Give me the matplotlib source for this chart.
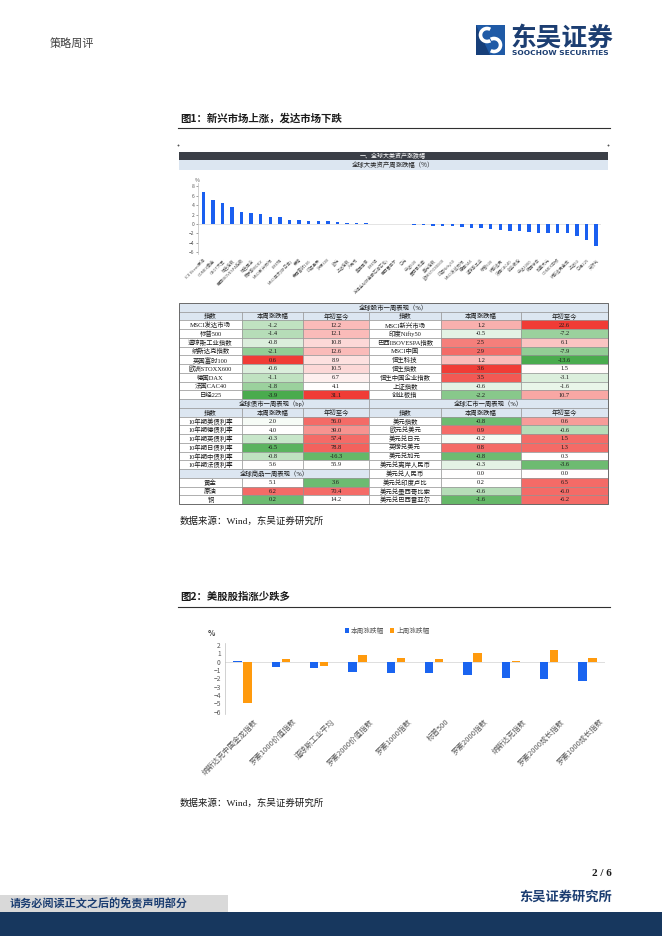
import matplotlib
matplotlib.use('Agg')
import matplotlib.pyplot as plt
import matplotlib.patches as patches
from matplotlib.colors import LinearSegmentedColormap
import numpy as np

plt.rcParams['font.family'] = ['Noto Sans CJK SC', 'DejaVu Sans']
SERIF = ['Liberation Serif', 'Noto Sans CJK SC']

# ---- chart 1: weekly change of global assets (%) ----
asset_names = ['ICE Brent原油', 'COMEX黄金', 'CBOT大豆', '恒生指数', '巴西IBOVESPA指数', '恒生国企',
               '俄罗斯MOEX', 'MSCI新兴市场', 'LME铜', 'MSCI亚太(除日本)', '英镑', '英国富时100',
               '印度孟买', '沪深300', '欧元', '上证指数', '人民币', '美国国债', 'LME铝',
               '万得全A(除金融石油石化)', '巴西雷亚尔', '日元', '中证500', '墨西哥比索', '美元指数',
               '欧洲STOXX600', '印度Nifty50', 'MSCI发达市场', '德国DAX', '道琼斯工业', '标普500',
               '纳斯达克', '法国CAC40', '创业板指', '中证1000', '韩国综合', '加拿大元', 'COMEX白银',
               '纳斯达克金龙', '上证50', '日经225', '天然气']
asset_week = [6.7, 5.1, 4.5, 3.6, 2.6, 2.3, 2.1, 1.5, 1.4, 0.85, 0.8, 0.65, 0.6, 0.55, 0.45, 0.3,
              0.2, 0.15, 0.1, -0.05, -0.08, -0.1, -0.12, -0.2, -0.35, -0.4, -0.45, -0.6, -0.8, -0.85,
              -1.0, -1.2, -1.4, -1.45, -1.7, -1.8, -1.85, -1.9, -2.0, -2.6, -3.4, -4.7]

# ---- tables ----
stock_left_names = ['MSCI发达市场', '标普500', '道琼斯工业指数', '纳斯达克指数', '英国富时100',
                    '欧洲STOXX600', '德国DAX', '法国CAC40', '日经225']
stock_left_week = [-1.2, -1.4, -0.8, -2.1, 0.6, -0.6, -1.1, -1.8, -3.9]
stock_left_ytd = [12.2, 12.1, 10.8, 12.6, 8.9, 10.5, 6.7, 4.1, 31.1]
stock_right_names = ['MSCI新兴市场', '印度Nifty50', '巴西IBOVESPA指数', 'MSCI中国', '恒生科技',
                     '恒生指数', '恒生中国企业指数', '上证指数', '创业板指']
stock_right_week = [1.2, -0.5, 2.5, 2.9, 1.2, 3.6, 3.5, -0.6, -2.2]
stock_right_ytd = [22.6, -7.2, 6.1, -7.9, -13.6, 1.5, -3.1, -1.6, 10.7]
bond_names = ['10年期美债利率', '10年期德债利率', '10年期英债利率', '10年期日债利率',
              '10年期中债利率', '10年期法债利率']
bond_week = [2.0, 4.0, -0.3, -6.5, -0.8, 5.6]
bond_ytd = [56.0, 39.0, 57.4, 78.8, -16.3, 55.9]
cmdty_names = ['黄金', '原油', '铜']
cmdty_week = [5.1, 6.2, 0.2]
cmdty_ytd = [3.6, 70.4, 14.2]
fx_names = ['美元指数', '欧元兑美元', '美元兑日元', '英镑兑美元', '美元兑加元', '美元兑离岸人民币',
            '美元兑人民币', '美元兑印度卢比', '美元兑墨西哥比索', '美元兑巴西雷亚尔']
fx_week = [-0.8, 0.9, -0.2, 0.8, -0.8, -0.3, 0.0, 0.2, -0.6, -1.6]
fx_ytd = [0.6, -0.6, 1.5, 1.3, 0.3, -3.6, 0.0, 6.5, -6.0, -6.2]

# shading of the cells (-1 green .. 0 white .. 1 red), as in the report
stock_left_week_heat = [-0.35, -0.4, -0.2, -0.6, 1.0, -0.2, -0.35, -0.55, -1.0]
stock_left_ytd_heat = [0.35, 0.35, 0.2, 0.35, 0.15, 0.2, 0.08, 0.0, 1.0]
stock_right_week_heat = [0.4, -0.15, 0.65, 0.75, 0.35, 1.0, 0.85, -0.15, -0.65]
stock_right_ytd_heat = [1.0, -0.55, 0.3, -0.6, -1.0, 0.02, -0.2, -0.12, 0.45]
bond_week_heat = [-0.05, 0.0, -0.3, -0.9, -0.35, 0.0]
bond_ytd_heat = [0.75, 0.55, 0.75, 0.8, -0.85, 0.0]
cmdty_week_heat = [0.0, 0.75, -0.8]
cmdty_ytd_heat = [-0.8, 0.75, 0.0]
fx_week_heat = [-0.8, 0.75, -0.05, 0.75, -0.8, -0.15, 0.0, 0.0, -0.4, -0.85]
fx_ytd_heat = [0.5, -0.4, 0.75, 0.75, 0.0, -0.8, 0.0, 0.75, 0.75, 0.75]

# ---- chart 2: US indices ----
us_names = ['纳斯达克中国金龙指数', '罗素1000价值指数', '道琼斯工业平均', '罗素2000价值指数',
            '罗素1000指数', '标普500', '罗素2000指数', '纳斯达克指数', '罗素2000成长指数',
            '罗素1000成长指数']
us_this_week = [0.05, -0.6, -0.8, -1.2, -1.4, -1.4, -1.6, -2.0, -2.1, -2.3]
us_last_week = [-4.9, 0.3, -0.5, 0.8, 0.4, 0.3, 1.1, 0.1, 1.4, 0.5]

W, H = 662, 936
fig = plt.figure(figsize=(W / 100, H / 100), dpi=100)
pg = fig.add_axes([0, 0, 1, 1])
pg.set_xlim(0, W)
pg.set_ylim(H, 0)
pg.axis('off')


def px_axes(x0, y0, x1, y1):
    return fig.add_axes([x0 / W, 1 - y1 / H, (x1 - x0) / W, (y1 - y0) / H])


NAVY = '#1c3e72'

# header
pg.text(50, 43, '策略周评', fontsize=8, color='#404040', va='center')
pg.add_patch(patches.Rectangle((476, 25), 29, 30, facecolor='#1f5aa6', edgecolor='none'))
pg.add_patch(patches.Polygon([(476, 25), (476, 55), (490, 55)], closed=True, facecolor='#173f7a', edgecolor='none'))
pg.add_patch(patches.Arc((487, 35), 13, 13, theta1=60, theta2=300, color='white', lw=2.6))
pg.add_patch(patches.Arc((494, 45), 13, 13, theta1=240, theta2=480, color='white', lw=2.6))
pg.text(510, 38, '东吴证券', fontsize=18.5, color=NAVY, va='center', fontweight='bold')
pg.text(512, 53, 'SOOCHOW SECURITIES', fontsize=5.4, color=NAVY, va='center', fontweight='bold',
        family='DejaVu Sans')

# figure 1 title
pg.text(180, 118, '图1：新兴市场上涨，发达市场下跌', fontsize=7.5, fontweight='bold', va='center', color='#1a1a1a')
pg.plot([178, 610], [128, 128], color='#303030', lw=0.8)
pg.plot([178, 608], [145, 145], ls='none', marker='s', ms=0.4, color='#555555')

pg.add_patch(patches.Rectangle((179, 152), 429, 8, facecolor='#3b3f47', edgecolor='none'))
pg.text(393, 156, '一、全球大类资产涨跌幅', fontsize=4.3, color='white', ha='center', va='center')
pg.add_patch(patches.Rectangle((179, 160), 429, 9.5, facecolor='#dce6f1', edgecolor='none'))
pg.text(393, 164.8, '全球大类资产周涨跌幅（%）', fontsize=4.6, color='#222222', ha='center', va='center')

ax1 = px_axes(198.5, 183.2, 600.8, 253.9)
x1 = np.arange(len(asset_week))
ax1.bar(x1, asset_week, width=0.36, color='#1a5ff0', zorder=2)
ax1.axhline(0, color='#d9d9d9', lw=0.5, zorder=1)
ax1.set_xlim(-0.5, len(asset_week) - 0.5)
ax1.set_ylim(-6.3, 8.6)
ax1.set_yticks(range(-6, 9, 2))
ax1.tick_params(axis='y', labelsize=3.6, colors='#595959', length=1.5, width=0.4, pad=1.5)
ax1.set_xticks(x1)
ax1.set_xticklabels(asset_names, rotation=45, ha='right', rotation_mode='anchor', fontsize=3.0, color='#595959')
ax1.tick_params(axis='x', length=0, pad=3)
for s in ['top', 'right', 'bottom']:
    ax1.spines[s].set_visible(False)
ax1.spines['left'].set_color('#bfbfbf')
ax1.spines['left'].set_linewidth(0.5)
ax1.patch.set_alpha(0)
pg.text(197, 180, '%', fontsize=3.8, color='#595959', ha='center', va='center')

# tables
heat_cmap = LinearSegmentedColormap.from_list('heat', ['#4aab4e', '#ffffff', '#f03c36'])
cols = [179, 242, 303, 369, 441, 521, 608]
row_h = 8.74
top = 303
HEAD = '#dce6f1'


def cell(c0, c1, r, text, fc='white', fs=4.6):
    x0, x1 = cols[c0], cols[c1]
    y0 = top + r * row_h
    pg.add_patch(patches.Rectangle((x0, y0), x1 - x0, row_h, facecolor=fc, edgecolor='#8c8c8c', lw=0.4))
    pg.text((x0 + x1) / 2, y0 + row_h / 2 + 0.3, text, ha='center', va='center', fontsize=fs,
            family=SERIF, color='#1a1a1a')


def heat(h):
    return heat_cmap((h + 1) / 2)


def block(c, r0, names, week, ytd, wheat, yheat):
    for i, (n, w, y, hw, hy) in enumerate(zip(names, week, ytd, wheat, yheat)):
        cell(c, c + 1, r0 + i, n)
        cell(c + 1, c + 2, r0 + i, f'{w:.1f}', heat(hw))
        cell(c + 2, c + 3, r0 + i, f'{y:.1f}', heat(hy))


def headers(c, r):
    for j, t in enumerate(['指数', '本周涨跌幅', '年初至今']):
        cell(c + j, c + j + 1, r, t, HEAD)


cell(0, 6, 0, '全球股市一周表现（%）', HEAD)
headers(0, 1)
headers(3, 1)
block(0, 2, stock_left_names, stock_left_week, stock_left_ytd, stock_left_week_heat, stock_left_ytd_heat)
block(3, 2, stock_right_names, stock_right_week, stock_right_ytd, stock_right_week_heat, stock_right_ytd_heat)
cell(0, 3, 11, '全球债市一周表现（bp）', HEAD)
cell(3, 6, 11, '全球汇市一周表现（%）', HEAD)
headers(0, 12)
headers(3, 12)
block(0, 13, bond_names, bond_week, bond_ytd, bond_week_heat, bond_ytd_heat)
cell(0, 3, 19, '全球商品一周表现（%）', HEAD)
block(0, 20, cmdty_names, cmdty_week, cmdty_ytd, cmdty_week_heat, cmdty_ytd_heat)
block(3, 13, fx_names, fx_week, fx_ytd, fx_week_heat, fx_ytd_heat)
pg.add_patch(patches.Rectangle((cols[0], top), cols[-1] - cols[0], 23 * row_h, facecolor='none',
                               edgecolor='#606060', lw=0.6))

pg.text(180, 521, '数据来源：Wind，东吴证券研究所', fontsize=6.8, family=SERIF, va='center', color='#1a1a1a')

# figure 2
pg.text(180, 597, '图2：美股股指涨少跌多', fontsize=7.5, fontweight='bold', va='center', color='#1a1a1a')
pg.plot([178, 610], [607, 607], color='#303030', lw=0.8)

ax2 = px_axes(225, 642.5, 605, 713.5)
x2 = np.arange(len(us_names))
ax2.bar(x2 - 0.13, us_this_week, width=0.22, color='#1a64f0', label='本周涨跌幅', zorder=2)
ax2.bar(x2 + 0.13, us_last_week, width=0.22, color='#ff9a0d', label='上周涨跌幅', zorder=2)
ax2.axhline(0, color='#d9d9d9', lw=0.6, zorder=1)
ax2.set_xlim(-0.46, len(us_names) - 0.54)
ax2.set_ylim(-6.2, 2.3)
ax2.set_yticks(range(-6, 3))
ax2.tick_params(axis='y', labelsize=4.8, colors='#595959', length=0, pad=3)
ax2.set_xticks(x2 + 0.3)
ax2.set_xticklabels(us_names, rotation=45, ha='right', rotation_mode='anchor', fontsize=5.4, color='#595959')
ax2.tick_params(axis='x', length=0, pad=3)
for s in ['top', 'right', 'bottom']:
    ax2.spines[s].set_visible(False)
ax2.spines['left'].set_color('#bfbfbf')
ax2.spines['left'].set_linewidth(0.5)
ax2.patch.set_alpha(0)
pg.text(211, 634, '%', fontsize=5.5, color='#404040', ha='center', va='center', fontweight='bold')
fig.legend(loc='center', bbox_to_anchor=(387 / W, 1 - 631 / H), ncol=2, frameon=False, fontsize=4.8,
           handlelength=0.7, handleheight=0.7, handletextpad=0.3, columnspacing=0.8, labelcolor='#595959')

pg.text(180, 803, '数据来源：Wind，东吴证券研究所', fontsize=6.8, family=SERIF, va='center', color='#1a1a1a')

# footer
pg.text(612, 874, '2 / 6', fontsize=8, fontweight='bold', family='Liberation Serif', ha='right', va='center',
        color='#1a1a1a')
pg.text(612, 897, '东吴证券研究所', fontsize=9.5, fontweight='bold', ha='right', va='center', color=NAVY)
pg.add_patch(patches.Rectangle((0, 895), 228, 17, facecolor='#d9d9d9', edgecolor='none'))
pg.add_patch(patches.Rectangle((0, 912), W, 24, facecolor='#17375e', edgecolor='none'))
pg.text(10, 904, '请务必阅读正文之后的免责声明部分', fontsize=8, fontweight='bold', va='center', color=NAVY)

fig.savefig('out.png', dpi=100)
